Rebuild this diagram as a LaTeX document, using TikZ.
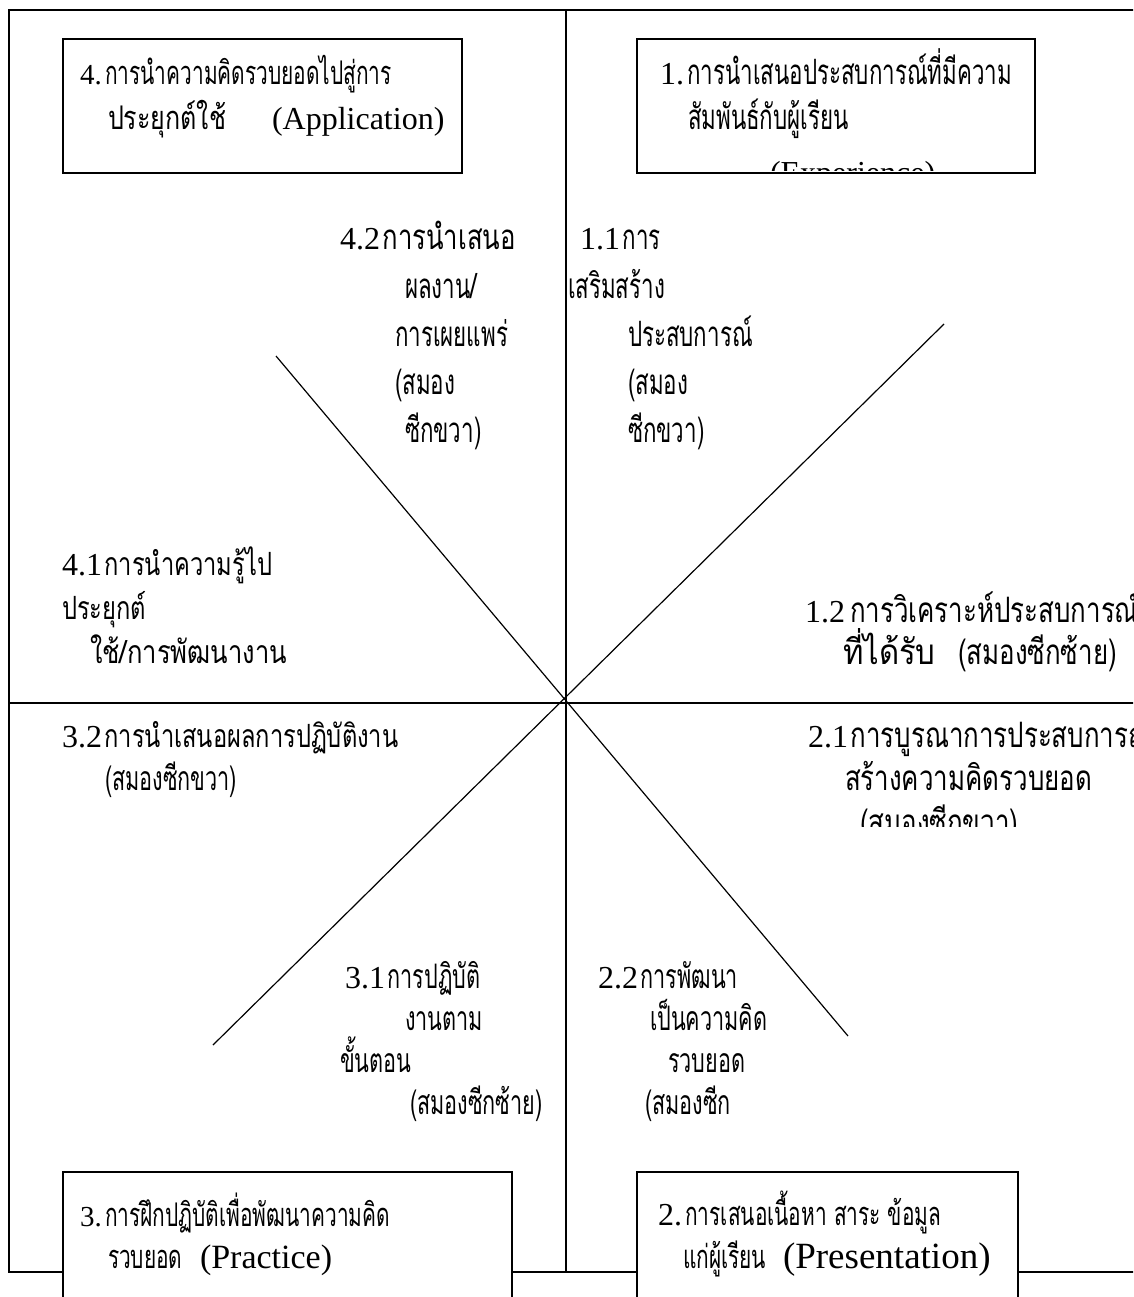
\documentclass[tikz,border=0pt]{standalone}
\usepackage{fontspec}
\usepackage{graphicx}
\setmainfont{Liberation Serif}
\newfontfamily\thaifont[Script=Thai,FakeStretch=0.64]{Loma}
\newfontfamily\thaiwide[Script=Thai,FakeStretch=0.74]{Loma}
\newcommand\TT[2]{{\thaifont\fontsize{#1}{#1}\selectfont #2}}
\newcommand\TW[2]{{\thaiwide\fontsize{#1}{#1}\selectfont #2}}
\newcommand\NN[2]{{\fontsize{#1}{#1}\selectfont #2}}
\newcommand\WX[2]{\scalebox{#1}[1]{#2}}
\begin{document}
\begin{tikzpicture}[x=1pt,y=-1pt,
  frame/.style={line width=2.4pt},
  boxst/.style={draw,line width=1.6pt,fill=white,anchor=north west,inner sep=0pt},
  diag/.style={line width=1.2pt},
  lbl/.style={anchor=base west,inner sep=0pt,outer sep=0pt}]
\useasboundingbox (0,0) rectangle (1133,1297);
\begin{scope}
\clip (0,0) rectangle (1133,1297);
% frame
\coordinate (tl) at (9,10);
\coordinate (tr) at (1140,10);
\coordinate (bl) at (9,1272);
\coordinate (br) at (1140,1272);
\coordinate (mt) at (566,10);
\coordinate (mb) at (566,1272);
\coordinate (ml) at (9,703);
\coordinate (mr) at (1140,703);
\draw[frame] (tr) -- (tl) -- (bl) -- (br);
\draw[frame] (mt) -- (mb);
\draw[frame] (ml) -- (mr);
% diagonals
\coordinate (d1a) at (276,356);
\coordinate (d1b) at (848,1036);
\coordinate (d2a) at (944,324);
\coordinate (d2b) at (213,1045);
\draw[diag] (d1a) -- (d1b);
\draw[diag] (d2a) -- (d2b);
% boxes
\node[boxst,minimum width=399pt,minimum height=134pt] (b4) at (62,38) {};
\node[boxst,minimum width=398pt,minimum height=134pt] (b1) at (636,38) {};
\node[boxst,minimum width=449pt,minimum height=160pt] (b3) at (62,1171) {};
\node[boxst,minimum width=381pt,minimum height=160pt] (b2) at (636,1171) {};
% box 4
\node[lbl] (t4a) at (80,85) {\NN{29pt}{4.} \TT{32.6pt}{การนำความคิดรวบยอดไปสู่การ}};
\node[lbl] (t4b) at (108,130) {\WX{1.2}{\TT{32.6pt}{ประยุกต์ใช้}}};
\node[lbl] (t4c) at (272,130) {\NN{32pt}{(Application)}};
% box 1
\node[lbl] (t1a) at (660,85) {\NN{32pt}{1.} \TT{34.9pt}{การนำเสนอประสบการณ์ที่มีความ}};
\node[lbl] (t1b) at (688,130) {\TT{34.9pt}{สัมพันธ์กับผู้เรียน}};
\begin{scope}
\clip (637,39) rectangle (1033,171);
\node[lbl] (t1c) at (770,184) {\NN{32pt}{(Experience)}};
\end{scope}
% box 3
\node[lbl] (t3a) at (80,1226) {\NN{29pt}{3.} \TT{32.6pt}{การฝึกปฏิบัติเพื่อพัฒนาความคิด}};
\node[lbl] (t3b) at (108,1268) {\TT{32.6pt}{รวบยอด}};
\node[lbl] (t3c) at (200,1268) {\NN{34pt}{(Practice)}};
% box 2
\node[lbl] (t2a) at (658,1225) {\NN{32pt}{2.} \TT{32.6pt}{การเสนอเนื้อหา สาระ ข้อมูล}};
\node[lbl] (t2b) at (683,1268) {\TT{32.6pt}{แก่ผู้เรียน}};
\node[lbl] (t2c) at (783,1268) {\NN{37pt}{(Presentation)}};
% 4.2
\node[lbl] (a1) at (340,250) {\NN{32pt}{4.2} \WX{1.15}{\TT{34.9pt}{การนำเสนอ}}};
\node[lbl] (a2) at (405,298) {\TT{34.9pt}{ผลงาน/}};
\node[lbl] (a3) at (395,346) {\TT{34.9pt}{การเผยแพร่}};
\node[lbl] (a4) at (395,394) {\TT{34.9pt}{(สมอง}};
\node[lbl] (a5) at (405,442) {\TT{34.9pt}{ซีกขวา)}};
% 1.1
\node[lbl] (c1) at (580,250) {\NN{32pt}{1.1} \TT{34.9pt}{การ}};
\node[lbl] (c2) at (568,298) {\TT{34.9pt}{เสริมสร้าง}};
\node[lbl] (c3) at (628,346) {\TT{34.9pt}{ประสบการณ์}};
\node[lbl] (c4) at (628,394) {\TT{34.9pt}{(สมอง}};
\node[lbl] (c5) at (628,442) {\TT{34.9pt}{ซีกขวา)}};
% 4.1
\node[lbl] (e1) at (62,575) {\NN{32pt}{4.1} \TW{32pt}{การนำความรู้ไป}};
\node[lbl] (e2) at (62,619) {\TW{32pt}{ประยุกต์}};
\node[lbl] (e3) at (90,663) {\WX{1.08}{\TW{32pt}{ใช้/การพัฒนางาน}}};
% 1.2
\node[lbl] (f1) at (805,622) {\NN{32pt}{1.2}\ \ \TW{35pt}{การวิเคราะห์ประสบการณ์}};
\node[lbl] (f2) at (843,664) {\WX{1.2}{\TW{35pt}{ที่ได้รับ}}};
\node[lbl] (f3) at (958,664) {\TW{35pt}{(สมองซีกซ้าย)}};
% 3.2
\node[lbl] (g1) at (62,747) {\NN{32pt}{3.2} \TW{32pt}{การนำเสนอผลการปฏิบัติงาน}};
\node[lbl] (g2) at (105,790) {\TT{33.75pt}{(สมองซีกขวา)}};
% 2.1
\node[lbl] (h1) at (808,747) {\NN{32pt}{2.1} \TW{35pt}{การบูรณาการประสบการณ์}};
\node[lbl] (h2) at (845,790) {\TW{35pt}{สร้างความคิดรวบยอด}};
\begin{scope}
\clip (700,710) rectangle (1133,826);
\node[lbl] (h3) at (860,834) {\TW{35pt}{(สมองซีกขวา)}};
\end{scope}
% 3.1
\node[lbl] (k1) at (345,988) {\NN{32pt}{3.1} \TT{33.75pt}{การปฏิบัติ}};
\node[lbl] (k2) at (405,1030) {\TT{33.75pt}{งานตาม}};
\node[lbl] (k3) at (340,1072) {\TT{33.75pt}{ขั้นตอน}};
\node[lbl] (k4) at (410,1114) {\TT{33.75pt}{(สมองซีกซ้าย)}};
% 2.2
\node[lbl] (m1) at (598,988) {\NN{32pt}{2.2} \TT{33.75pt}{การพัฒนา}};
\node[lbl] (m2) at (650,1030) {\TT{33.75pt}{เป็นความคิด}};
\node[lbl] (m3) at (668,1072) {\TT{33.75pt}{รวบยอด}};
\node[lbl] (m4) at (645,1114) {\TT{33.75pt}{(สมองซีก}};
\end{scope}
\end{tikzpicture}
\end{document}
